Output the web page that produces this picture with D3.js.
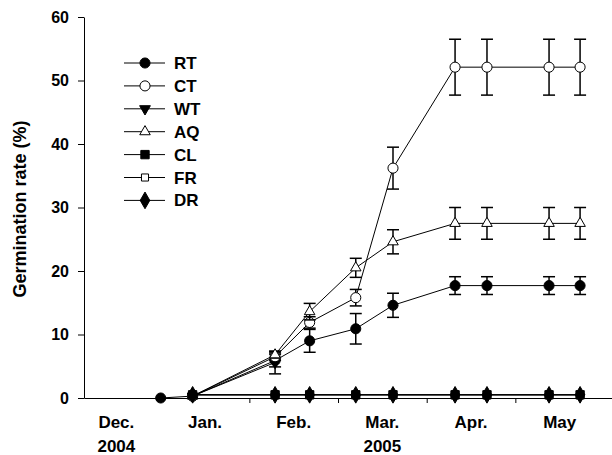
<!DOCTYPE html>
<html>
<head>
<meta charset="utf-8">
<script src="https://cdn.jsdelivr.net/npm/d3@7"></script>
<style>
  body { margin: 0; background: #fff; }
  text { font-family: "Liberation Sans", Arial, sans-serif; font-weight: bold; }
</style>
</head>
<body>
<div id="chart"></div>
<script>
// sampling dates, in months counted from 1 Dec 2004
var sampleMonths = [1.0, 1.36, 2.29, 2.68, 3.2, 3.62, 4.32, 4.68, 5.38, 5.73];
var monthLabels = ['Dec.', 'Jan.', 'Feb.', 'Mar.', 'Apr.', 'May'];
var yearLabels = [{ label: '2004', at: 0.5 }, { label: '2005', at: 3.5 }];

var seriesNames = ['RT', 'CT', 'WT', 'AQ', 'CL', 'FR', 'DR'];
var rtValues = [0, 0.3, 5.9, 9.0, 10.9, 14.6, 17.7, 17.7, 17.7, 17.7];
var rtErrors = [0, 0, 1.0, 1.8, 2.4, 1.9, 1.4, 1.4, 1.4, 1.4];
var ctValues = [null, 0.3, 6.5, 11.9, 15.8, 36.2, 52.1, 52.1, 52.1, 52.1];
var ctErrors = [0, 0, 0.6, 0.9, 1.3, 3.3, 4.4, 4.4, 4.4, 4.4];
var wtValues = [null, 0.3, 5.6, null, null, null, null, null, null, null];
var wtErrors = [0, 0, 1.8, 0, 0, 0, 0, 0, 0, 0];
var aqValues = [null, 0.3, 6.8, 13.6, 20.5, 24.6, 27.5, 27.5, 27.5, 27.5];
var aqErrors = [0, 0, 0.5, 1.3, 1.5, 1.9, 2.5, 2.5, 2.5, 2.5];
var clValues = [null, 0.5, 0.5, 0.5, 0.5, 0.5, 0.5, 0.5, 0.5, 0.5];
var frValues = [null, 0.5, 0.5, 0.5, 0.5, 0.5, 0.5, 0.5, 0.5, 0.5];
var drValues = [null, 0.5, 0.5, 0.5, 0.5, 0.5, 0.5, 0.5, 0.5, 0.5];

var yTicks = [0, 10, 20, 30, 40, 50, 60];

var symbols = {
    RT: { type: d3.symbolCircle, fill: '#000', size: 80 },
    CT: { type: d3.symbolCircle, fill: '#fff', size: 80 },
    WT: { type: d3.symbolTriangle, fill: '#000', size: 50, rotate: 180 },
    AQ: { type: d3.symbolTriangle, fill: '#fff', size: 48 },
    CL: { type: d3.symbolSquare, fill: '#000', size: 70 },
    FR: { type: d3.symbolSquare, fill: '#fff', size: 50 },
    DR: { type: d3.symbolDiamond, fill: '#000', size: 80 }
};

// drawing order: rising series first, flat ones on top
var series = [
    { name: 'WT', values: wtValues, errors: wtErrors },
    { name: 'RT', values: rtValues, errors: rtErrors },
    { name: 'CT', values: ctValues, errors: ctErrors },
    { name: 'AQ', values: aqValues, errors: aqErrors },
    { name: 'FR', values: frValues },
    { name: 'CL', values: clValues },
    { name: 'DR', values: drValues }
];

var W = 612, H = 455;
var svg = d3.select('#chart').append('svg')
    .attr('width', W)
    .attr('height', H);

var x = d3.scaleLinear().domain([0.135, 6.09]).range([84, 612]);
var y = d3.scaleLinear().domain([0, 60]).range([398, 17]);

// axes
var yAxis = svg.append('g')
    .attr('transform', 'translate(84,0)')
    .call(d3.axisLeft(y).tickValues(yTicks).tickSize(6).tickPadding(9).tickSizeOuter(0));
var xAxis = svg.append('g')
    .attr('transform', 'translate(0,398)')
    .call(d3.axisBottom(x).tickValues([1, 2, 3, 4, 5]).tickSize(5).tickFormat('').tickSizeOuter(0));
svg.selectAll('.domain, .tick line').attr('stroke', '#000').attr('stroke-width', 1);
yAxis.selectAll('text')
    .style('font-size', '16px')
    .style('font-family', '"Liberation Sans", Arial, sans-serif')
    .style('font-weight', 'bold')
    .attr('fill', '#000');

svg.selectAll('.month')
    .data(monthLabels)
    .enter().append('text')
    .attr('class', 'month')
    .attr('x', function(d, i) { return x(i + 0.5); })
    .attr('y', 428)
    .attr('text-anchor', 'middle')
    .style('font-size', '17px')
    .text(function(d) { return d; });

svg.selectAll('.year')
    .data(yearLabels)
    .enter().append('text')
    .attr('class', 'year')
    .attr('x', function(d) { return x(d.at); })
    .attr('y', 452)
    .attr('text-anchor', 'middle')
    .style('font-size', '17px')
    .text(function(d) { return d.label; });

svg.append('text')
    .attr('transform', 'translate(26,209) rotate(-90)')
    .attr('text-anchor', 'middle')
    .style('font-size', '18px')
    .text('Germination rate (%)');

// series
var line = d3.line()
    .defined(function(d) { return d.v != null; })
    .x(function(d) { return x(d.m); })
    .y(function(d) { return y(d.v); });

function pts(s) {
    return s.values.map(function(v, i) {
        return { m: sampleMonths[i], v: v, e: s.errors ? s.errors[i] : 0 };
    });
}

series.forEach(function(s) {
    var p = pts(s);
    var g = svg.append('g');
    g.append('path')
        .attr('d', line(p))
        .attr('fill', 'none')
        .attr('stroke', '#000')
        .attr('stroke-width', 1);

    var eb = p.filter(function(d) { return d.v != null && d.e > 0; });
    var bars = g.selectAll('.err').data(eb).enter().append('g').attr('class', 'err');
    bars.append('line')
        .attr('x1', function(d) { return x(d.m); })
        .attr('x2', function(d) { return x(d.m); })
        .attr('y1', function(d) { return y(d.v - d.e); })
        .attr('y2', function(d) { return y(d.v + d.e); });
    bars.append('line')
        .attr('x1', function(d) { return x(d.m) - 6; })
        .attr('x2', function(d) { return x(d.m) + 6; })
        .attr('y1', function(d) { return y(d.v + d.e); })
        .attr('y2', function(d) { return y(d.v + d.e); });
    bars.append('line')
        .attr('x1', function(d) { return x(d.m) - 6; })
        .attr('x2', function(d) { return x(d.m) + 6; })
        .attr('y1', function(d) { return y(d.v - d.e); })
        .attr('y2', function(d) { return y(d.v - d.e); });
    bars.selectAll('line').attr('stroke', '#000').attr('stroke-width', 1.5);

    var sym = symbols[s.name];
    g.selectAll('.mk')
        .data(p.filter(function(d) { return d.v != null; }))
        .enter().append('path')
        .attr('class', 'mk')
        .attr('d', d3.symbol().type(sym.type).size(sym.size))
        .attr('transform', function(d) {
            return 'translate(' + x(d.m) + ',' + y(d.v) + ')' + (sym.rotate ? ' rotate(' + sym.rotate + ')' : '');
        })
        .attr('fill', sym.fill)
        .attr('stroke', '#000')
        .attr('stroke-width', 1);
});

// legend
var legend = svg.append('g');
seriesNames.forEach(function(name, i) {
    var ly = 63 + i * 22.9;
    var sym = symbols[name];
    legend.append('line')
        .attr('x1', 124).attr('x2', 165)
        .attr('y1', ly).attr('y2', ly)
        .attr('stroke', '#000').attr('stroke-width', 1);
    legend.append('path')
        .attr('d', d3.symbol().type(sym.type).size(sym.size))
        .attr('transform', 'translate(145,' + ly + ')' + (sym.rotate ? ' rotate(' + sym.rotate + ')' : ''))
        .attr('fill', sym.fill)
        .attr('stroke', '#000');
    legend.append('text')
        .attr('x', 174)
        .attr('y', ly + 6)
        .style('font-size', '17px')
        .text(name);
});
</script>
</body>
</html>
